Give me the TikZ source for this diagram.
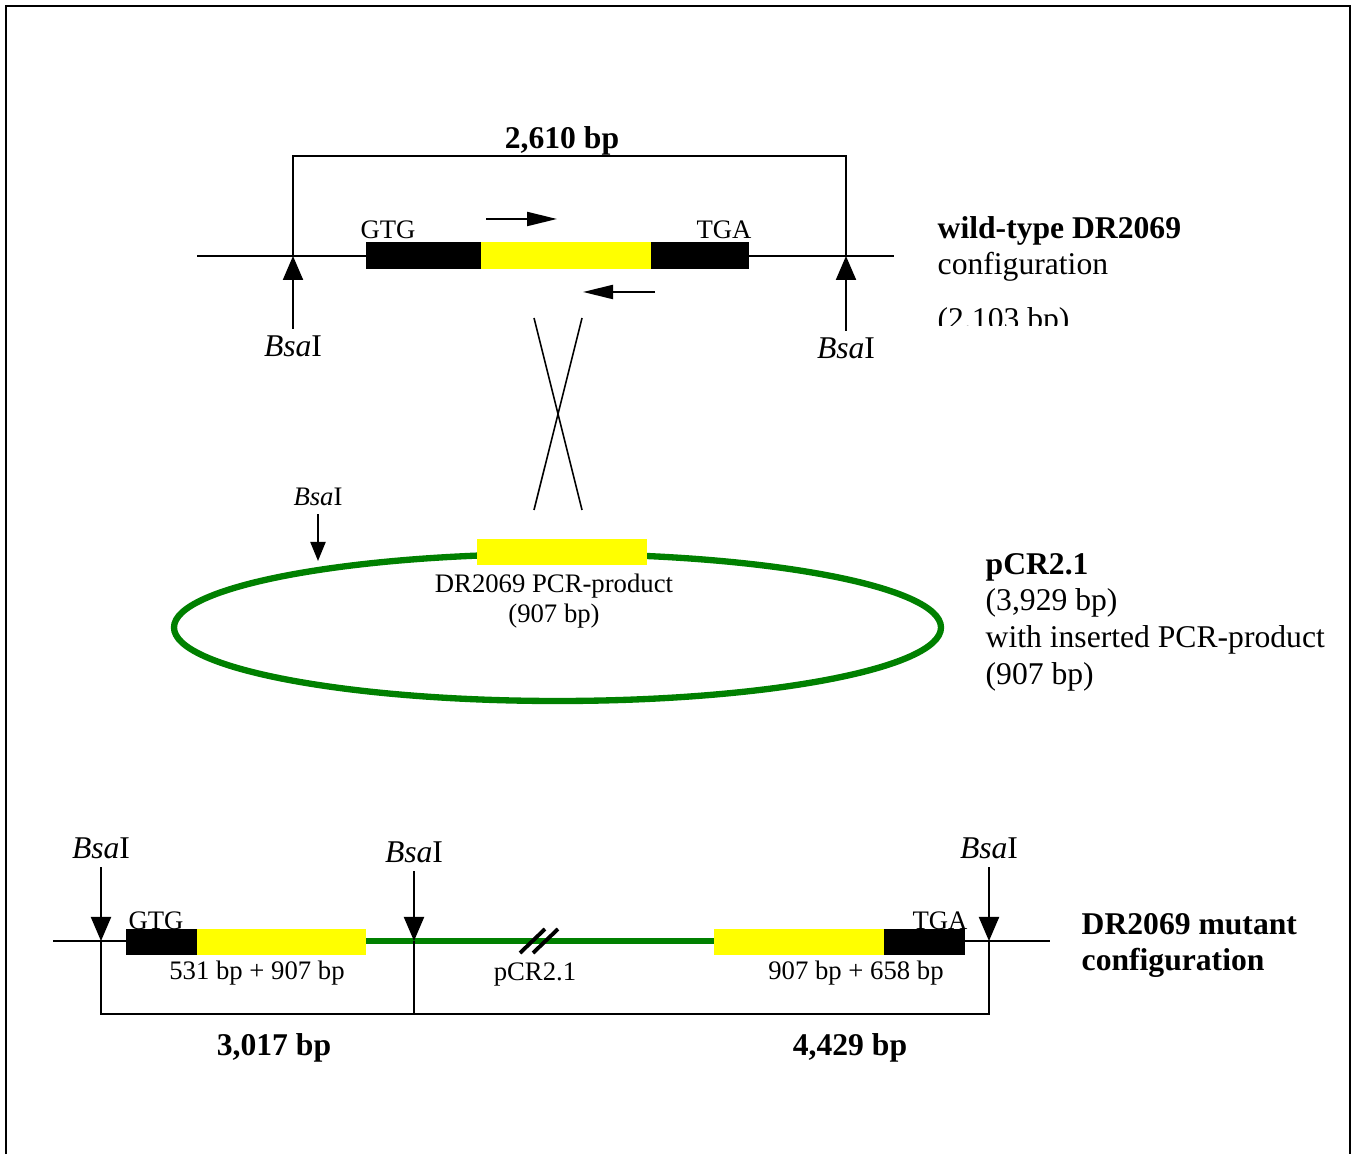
\documentclass[tikz,border=0pt]{standalone}
\usepackage{fontspec}
\setmainfont{Liberation Serif}
\usetikzlibrary{arrows.meta}
\definecolor{GeneYellow}{HTML}{FFFF00}
\definecolor{VecGreen}{HTML}{008000}
\newcommand{\bsa}{\textit{Bsa}I}

\begin{document}
\begin{tikzpicture}[x=1cm,y=1cm,
  big/.style={font=\fontsize{9}{10.8}\selectfont,anchor=base},
  small/.style={font=\fontsize{7.6}{9}\selectfont,anchor=base},
  lbl/.style={big,anchor=base west,inner xsep=0pt},
  site/.style={inner sep=2pt},
  dna/.style={line width=0.6pt},
  vec/.style={VecGreen,line width=1.7pt},
  cut/.style={line width=0.6pt,-{Triangle[length=0.24cm,width=0.2cm]}},
  cutsmall/.style={line width=0.6pt,-{Triangle[length=0.19cm,width=0.15cm]}},
  primer/.style={line width=0.6pt,-{Triangle[length=0.3cm,width=0.14cm]}}]
\path[use as bounding box] (0,0) rectangle (13.56,11.54);
% frame
\draw[line width=0.7pt] (0.06,0) -- (0.06,11.48) -- (13.50,11.48) -- (13.50,0);

% wild-type locus
\coordinate (wtL) at (1.97,8.98);
\coordinate (wtR) at (8.94,8.98);
\coordinate (cutA) at (2.93,8.98);
\coordinate (cutB) at (8.46,8.98);
\draw[dna] (wtL) -- (wtR);
\fill (3.66,8.845) rectangle (4.81,9.115);
\fill[GeneYellow] (4.81,8.845) rectangle (6.51,9.115);
\fill (6.51,8.845) rectangle (7.49,9.115);
\node[small] (gtgA) at (3.88,9.15) {GTG};
\node[small] (tgaA) at (7.24,9.15) {TGA};
\draw[dna] (cutA) -- ++(0,1.0) -| (cutB);
\node[big,font=\fontsize{9}{10.8}\selectfont\bfseries] (lenWT) at (5.62,10.05) {2,610 bp};
\node[big,site] (bsaA) at (2.93,7.97) {\bsa};
\node[big,site] (bsaB) at (8.46,7.95) {\bsa};
\draw[cut] (bsaA) -- (cutA);
\draw[cut] (bsaB) -- (cutB);
% primers
\coordinate (fwdS) at (4.86,9.35);
\coordinate (fwdE) at (5.57,9.35);
\coordinate (revS) at (6.55,8.62);
\coordinate (revE) at (5.83,8.62);
\draw[primer] (fwdS) -- (fwdE);
\draw[primer] (revS) -- (revE);
\node[lbl] (wtA) at (9.37,9.15) {\textbf{wild-type DR2069}};
\node[lbl] (wtB) at (9.37,8.79) {configuration};
\begin{scope}
\clip (9.2,8.28) rectangle (11.5,8.7);
\node[lbl] (wtC) at (9.37,8.24) {(2,103 bp)};
\end{scope}

% crossing over
\draw[line width=0.45pt] (5.34,8.36) -- (5.82,6.44);
\draw[line width=0.45pt] (5.82,8.36) -- (5.34,6.44);

% plasmid
\draw[vec,line width=1.8pt] (5.575,5.265) ellipse [x radius=3.835, y radius=0.735];
\fill[GeneYellow] (4.77,5.89) rectangle (6.47,6.15);
\node[small] (pcrA) at (5.54,5.61) {DR2069 PCR-product};
\node[small] (pcrB) at (5.54,5.31) {(907 bp)};
\node[small,site] (bsaP) at (3.18,6.48) {\bsa};
\coordinate (cutP) at (3.18,5.93);
\draw[cutsmall] (bsaP) -- (cutP);
\node[lbl] (plA) at (9.85,5.79) {\textbf{pCR2.1}};
\node[lbl] (plB) at (9.85,5.43) {(3,929 bp)};
\node[lbl] (plC) at (9.85,5.06) {with inserted PCR-product};
\node[lbl] (plD) at (9.85,4.69) {(907 bp)};

% mutant locus
\coordinate (mtL) at (0.53,2.13);
\coordinate (mtR) at (10.50,2.13);
\coordinate (cutC) at (1.01,2.13);
\coordinate (cutD) at (4.14,2.13);
\coordinate (cutE) at (9.89,2.13);
\coordinate (brkL) at (1.01,1.40);
\coordinate (brkR) at (9.89,1.40);
\draw[dna] (mtL) -- (mtR);
\draw[vec] (3.66,2.13) -- (7.14,2.13);
\fill (1.26,1.99) rectangle (1.97,2.25);
\fill[GeneYellow] (1.97,1.99) rectangle (3.66,2.25);
\fill[GeneYellow] (7.14,1.99) rectangle (8.84,2.25);
\fill (8.84,1.99) rectangle (9.65,2.25);
\draw[line width=1.1pt] (5.20,2.01) -- (5.45,2.25);
\draw[line width=1.1pt] (5.33,2.01) -- (5.58,2.25);
\node[small] (gtgB) at (1.56,2.25) {GTG};
\node[small] (tgaB) at (9.40,2.25) {TGA};
\node[small] (fragC) at (2.57,1.74) {531 bp + 907 bp};
\node[small] (vecC) at (5.35,1.73) {pCR2.1};
\node[small] (fragD) at (8.56,1.74) {907 bp + 658 bp};
\node[big,site] (bsaC) at (1.01,2.95) {\bsa};
\node[big,site] (bsaD) at (4.14,2.91) {\bsa};
\node[big,site] (bsaE) at (9.89,2.95) {\bsa};
\draw[cut] (bsaC) -- (cutC);
\draw[cut] (bsaD) -- (cutD);
\draw[cut] (bsaE) -- (cutE);
\draw[dna] (cutC) -- (brkL) -- (brkR) -- (cutE);
\draw[dna] (cutD) -- (cutD |- brkL);
\node[big,font=\fontsize{9}{10.8}\selectfont\bfseries] (lenC) at (2.74,0.99) {3,017 bp};
\node[big,font=\fontsize{9}{10.8}\selectfont\bfseries] (lenD) at (8.50,0.99) {4,429 bp};
\node[lbl] (mtA) at (10.81,2.19) {\textbf{DR2069 mutant}};
\node[lbl] (mtB) at (10.81,1.83) {\textbf{configuration}};
\end{tikzpicture}
\end{document}
